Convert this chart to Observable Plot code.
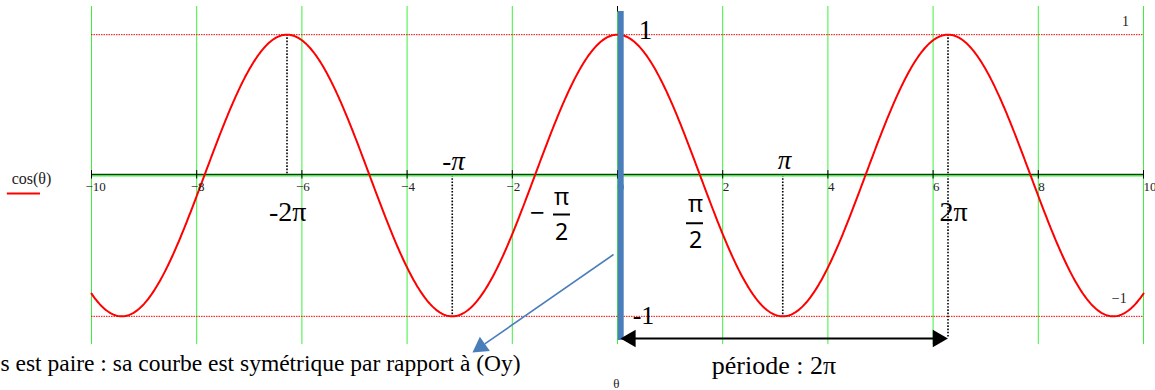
<!DOCTYPE html>
<html>
<head>
<meta charset="utf-8">
<script src="https://cdn.jsdelivr.net/npm/d3@7"></script>
<script src="https://cdn.jsdelivr.net/npm/@observablehq/plot@0.6"></script>
<style>
  html, body { margin: 0; padding: 0; background: #fff; }
  #chart svg { display: block; }
</style>
</head>
<body>
<div id="chart"></div>
<script>
// θ ticks along the horizontal axis and their labels
const thetaTicks = [-10, -8, -6, -4, -2, 0, 2, 4, 6, 8, 10];
const tickLabels = ["−10", "−8", "−6", "−4", "−2", "0", "2", "4", "6", "8", "10"];

// remarkable angles marked with dotted guides
const PI = Math.PI;
const guideX   = [-2 * PI, -PI, PI, 2 * PI];
const guideTop = [1, 0, 0, 1];
const guideBot = [0, -1, -1, -1.158];

// amplitude lines
const levels = [1, -1];

// sampled curve cos(θ) on [-10, 10]
const theta = d3.range(-10, 10.0001, 0.02);
const curve = theta.map(t => ({t, c: Math.cos(t)}));

const serif = "Liberation Serif, DejaVu Serif, serif";
const sans = "Noto Sans, Liberation Sans, sans-serif";
const green = "#3df03d";
const blue = "#4a7ebb";

const ticks = thetaTicks.map((t, i) => ({t, label: tickLabels[i], neg: t < 0}));

// small helper for a single piece of text
const label = (s, x, y, o = {}) =>
  Plot.text([s], {x, y, text: d => d, fontFamily: serif, fill: "black", ...o});

const plot = Plot.plot({
  width: 1155,
  height: 390,
  marginLeft: 91,
  marginRight: 12,
  marginTop: 6,
  marginBottom: 46,
  x: {domain: [-10, 10], axis: null},
  y: {domain: [-1.2, 1.2], axis: null},
  style: {background: "white", overflow: "visible", fontFamily: serif},
  marks: [
    // vertical grid
    Plot.ruleX(thetaTicks, {stroke: green, strokeWidth: 1}),
    // ±1 levels
    Plot.ruleY(levels, {x1: -10, x2: 10, stroke: "red", strokeWidth: 1, strokeDasharray: "1.5,1"}),
    // dotted guides at ±π, ±2π
    Plot.ruleX(guideX.map((x, i) => ({x, y1: guideTop[i], y2: guideBot[i]})),
      {x: "x", y1: "y1", y2: "y2", stroke: "black", strokeWidth: 1.6, strokeDasharray: "1.6,1.6"}),
    // horizontal axis
    Plot.ruleY([0], {x1: -10, x2: 10, stroke: green, strokeWidth: 2.2}),
    Plot.ruleY([0], {x1: -10, x2: 10, stroke: "black", strokeWidth: 1, dy: -1.2}),
    Plot.ruleX(thetaTicks, {y1: -0.025, y2: 0.035, stroke: "black", strokeWidth: 1}),
    // cosine curve
    Plot.line(curve, {x: "t", y: "c", stroke: "red", strokeWidth: 2}),
    // tick labels
    Plot.text(ticks.filter(d => !d.neg), {x: "t", y: -0.082, text: "label", textAnchor: "start", fontSize: 13, fontFamily: serif, fill: "#222"}),
    Plot.text(ticks.filter(d => d.neg), {x: "t", y: -0.082, text: "label", textAnchor: "start", fontSize: 13, fontFamily: serif, fill: "#222", dx: -6}),
    // side values
    label("1", 9.66, 1.094, {fontSize: 14, fill: "#222"}),
    label("−1", 9.54, -0.873, {fontSize: 14, fill: "#222"}),
    // legend
    label("cos(θ)", -11.14, -0.021, {fontSize: 16, fill: "#222"}),
    Plot.ruleY([-0.128], {x1: -11.6, x2: -10.97, stroke: "red", strokeWidth: 2}),
    // Oy axis highlighted
    Plot.ruleX([0], {y1: 1.2, y2: 1.16, stroke: "black", strokeWidth: 1}),
    Plot.ruleX([0], {y1: 1.165, y2: -1.172, stroke: blue, strokeWidth: 6, dx: 3.2}),
    // annotations
    label("1", 0.53, 1.03, {fontSize: 27}),
    label("-1", 0.494, -0.994, {fontSize: 26}),
    label("-π", -3.118, 0.099, {fontSize: 27, fontStyle: "italic"}),
    label("π", 3.175, 0.107, {fontSize: 27, fontStyle: "italic"}),
    label("-2π", -6.27, -0.256, {fontSize: 28}),
    label("2π", 6.39, -0.256, {fontSize: 28}),
    // −π/2
    label("−", -1.52, -0.27, {fontSize: 26, fontFamily: sans}),
    label("π", -1.065, -0.156, {fontSize: 23, fontFamily: sans}),
    Plot.ruleY([-0.277], {x1: -1.217, x2: -0.894, stroke: "black", strokeWidth: 2}),
    label("2", -1.065, -0.405, {fontSize: 23, fontFamily: sans}),
    // π/2
    label("π", 1.483, -0.206, {fontSize: 23, fontFamily: sans}),
    Plot.ruleY([-0.339], {x1: 1.312, x2: 1.635, stroke: "black", strokeWidth: 2}),
    label("2", 1.483, -0.462, {fontSize: 23, fontFamily: sans}),
    // period arrow
    Plot.ruleY([-1.158], {x1: 0.3, x2: 6.05, stroke: "black", strokeWidth: 2}),
    Plot.dot([{x: 0.249, r: -90}, {x: 6.09, r: 90}], {x: "x", y: -1.158, symbol: "triangle", r: 6.5, rotate: "r", fill: "black", stroke: null}),
    label("période : 2π", 2.975, -1.349, {fontSize: 26}),
    label("θ", -0.02, -1.477, {fontSize: 13, fill: "#222"}),
    // symmetry note
    Plot.link([{x1: -0.076, y1: -0.561, x2: -2.523, y2: -1.196}], {x1: "x1", y1: "y1", x2: "x2", y2: "y2", stroke: blue, strokeWidth: 1.6}),
    Plot.dot([{x: -2.60, y: -1.216}], {x: "x", y: "y", symbol: "triangle", r: 6.5, rotate: 235, fill: blue, stroke: null}),
    label("s est paire : sa courbe est symétrique par rapport à (Oy)", -11.73, -1.335, {textAnchor: "start", fontSize: 23.5})
  ]
});

document.getElementById("chart").appendChild(plot);
</script>
</body>
</html>
